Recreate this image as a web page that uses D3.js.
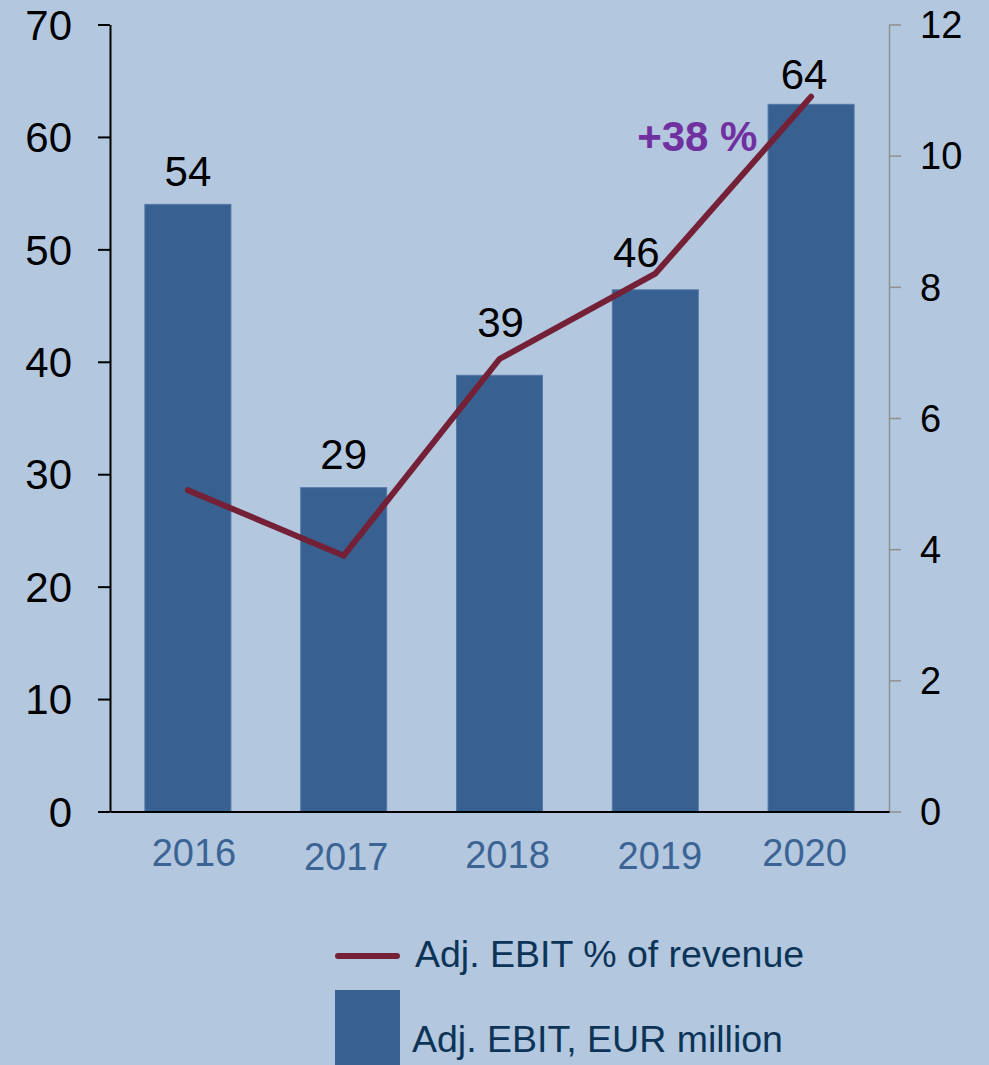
<!DOCTYPE html>
<html>
<head>
<meta charset="utf-8">
<script src="https://cdn.jsdelivr.net/npm/d3@7"></script>
<style>
  body { margin:0; background:#B3C7DF; }
  svg { display:block; font-family:"Liberation Sans", Arial, sans-serif; }
</style>
</head>
<body>
<div id="canvas"></div>
<script>
// data
var years = ['2016','2017','2018','2019','2020'];
var ebit = [54, 28.8, 38.8, 46.4, 62.9];          // Adj. EBIT, EUR million (bars)
var ebitLabels = ['54','29','39','46','64'];
var margin = [4.9, 3.9, 6.9, 8.2, 10.9];          // Adj. EBIT % of revenue (line)
var leftTicks = [0,10,20,30,40,50,60,70];
var rightTicks = [0,2,4,6,8,10,12];
var growthLabel = '+38 %';
var legendLine = 'Adj. EBIT % of revenue';
var legendBar = 'Adj. EBIT, EUR million';

var W = 989, H = 1065;
var m = {t:24.5, l:110, r:100, b:253.5};
var w = W - m.l - m.r, h = H - m.t - m.b;

var svg = d3.select('#canvas').append('svg')
    .attr('width', W).attr('height', H);
svg.append('rect').attr('width', W).attr('height', H).attr('fill', '#B3C7DF');

var plot = svg.append('g').attr('transform','translate('+m.l+','+m.t+')');

var x = d3.scaleBand().domain(years).range([0, w])
    .paddingInner(0.448).paddingOuter(0.224);
var yL = d3.scaleLinear().domain([0,70]).range([h,0]);
var yR = d3.scaleLinear().domain([0,12]).range([h,0]);

// bars
plot.selectAll('rect.bar')
    .data(ebit)
    .enter().append('rect').attr('class','bar')
    .attr('x', function(d,i){ return x(years[i]); })
    .attr('y', function(d){ return yL(d); })
    .attr('width', x.bandwidth())
    .attr('height', function(d){ return h - yL(d); })
    .attr('fill', '#386090')
    .attr('stroke', '#5278a4').attr('stroke-width', 1);

// left axis
var axL = plot.append('g')
    .call(d3.axisLeft(yL).tickValues(leftTicks).tickSize(12).tickSizeOuter(0).tickPadding(26));
axL.select('.domain').attr('stroke','#000').attr('stroke-width',2);
axL.selectAll('.tick line').attr('stroke','#000').attr('stroke-width',2);
axL.selectAll('.tick text').attr('fill','#000').style('font-size','42px').attr('dy','0.35em');

// right axis
var axR = plot.append('g').attr('transform','translate('+w+',0)')
    .call(d3.axisRight(yR).tickValues(rightTicks).tickSize(12).tickSizeOuter(0).tickPadding(19));
axR.select('.domain').attr('stroke','#8f8f8f').attr('stroke-width',1.5);
axR.selectAll('.tick line').attr('stroke','#8f8f8f').attr('stroke-width',1.5);
axR.selectAll('.tick text').attr('fill','#000').style('font-size','38px').attr('dy','0.35em');

// bottom axis
var yearShift = [[6,54.5],[2.5,58.5],[8,56.5],[4.5,57.5],[-6.5,54.5]];
var axB = plot.append('g').attr('transform','translate(0,'+h+')')
    .call(d3.axisBottom(x).tickSize(0).tickSizeOuter(0));
axB.select('.domain').attr('stroke','#000').attr('stroke-width',2);
axB.selectAll('.tick text')
    .attr('fill','#3B6494').style('font-size','38px')
    .attr('dy', null)
    .attr('x', function(d,i){ return yearShift[i][0]; })
    .attr('y', function(d,i){ return yearShift[i][1]; });

// line
var line = d3.line()
    .x(function(d,i){ return x(years[i]) + x.bandwidth()/2; })
    .y(function(d){ return yR(d); });
plot.append('path').datum(margin)
    .attr('d', line)
    .attr('fill','none')
    .attr('stroke','#742036')
    .attr('stroke-width',6)
    .attr('stroke-linecap','round')
    .attr('stroke-linejoin','miter');

// value labels
var labelShift = [[0,-18],[0,-19],[1,-38],[-19,-23],[-7,-15]];
plot.selectAll('text.val')
    .data(ebitLabels)
    .enter().append('text').attr('class','val')
    .attr('x', function(d,i){ return x(years[i]) + x.bandwidth()/2 + labelShift[i][0]; })
    .attr('y', function(d,i){ return yL(ebit[i]) + labelShift[i][1]; })
    .attr('text-anchor','middle')
    .style('font-size','42px')
    .attr('fill','#000')
    .text(function(d){ return d; });

// growth annotation
plot.append('text')
    .attr('x', x('2019') + x.bandwidth()/2 + 42)
    .attr('y', yR(10) - 5)
    .attr('text-anchor','middle')
    .style('font-size','42px').style('font-weight','bold')
    .attr('fill','#7030A0')
    .text(growthLabel);

// legend
var lg = svg.append('g');
lg.append('line')
    .attr('x1',338).attr('x2',397).attr('y1',956).attr('y2',956)
    .attr('stroke','#742036').attr('stroke-width',6).attr('stroke-linecap','round');
lg.append('text').attr('x',415).attr('y',967)
    .style('font-size','37.5px').attr('fill','#0C3457').text(legendLine);
lg.append('rect').attr('x',335).attr('y',990).attr('width',65).attr('height',80)
    .attr('fill','#386090');
lg.append('text').attr('x',412).attr('y',1052)
    .style('font-size','37.5px').attr('fill','#0C3457').text(legendBar);
</script>
</body>
</html>
